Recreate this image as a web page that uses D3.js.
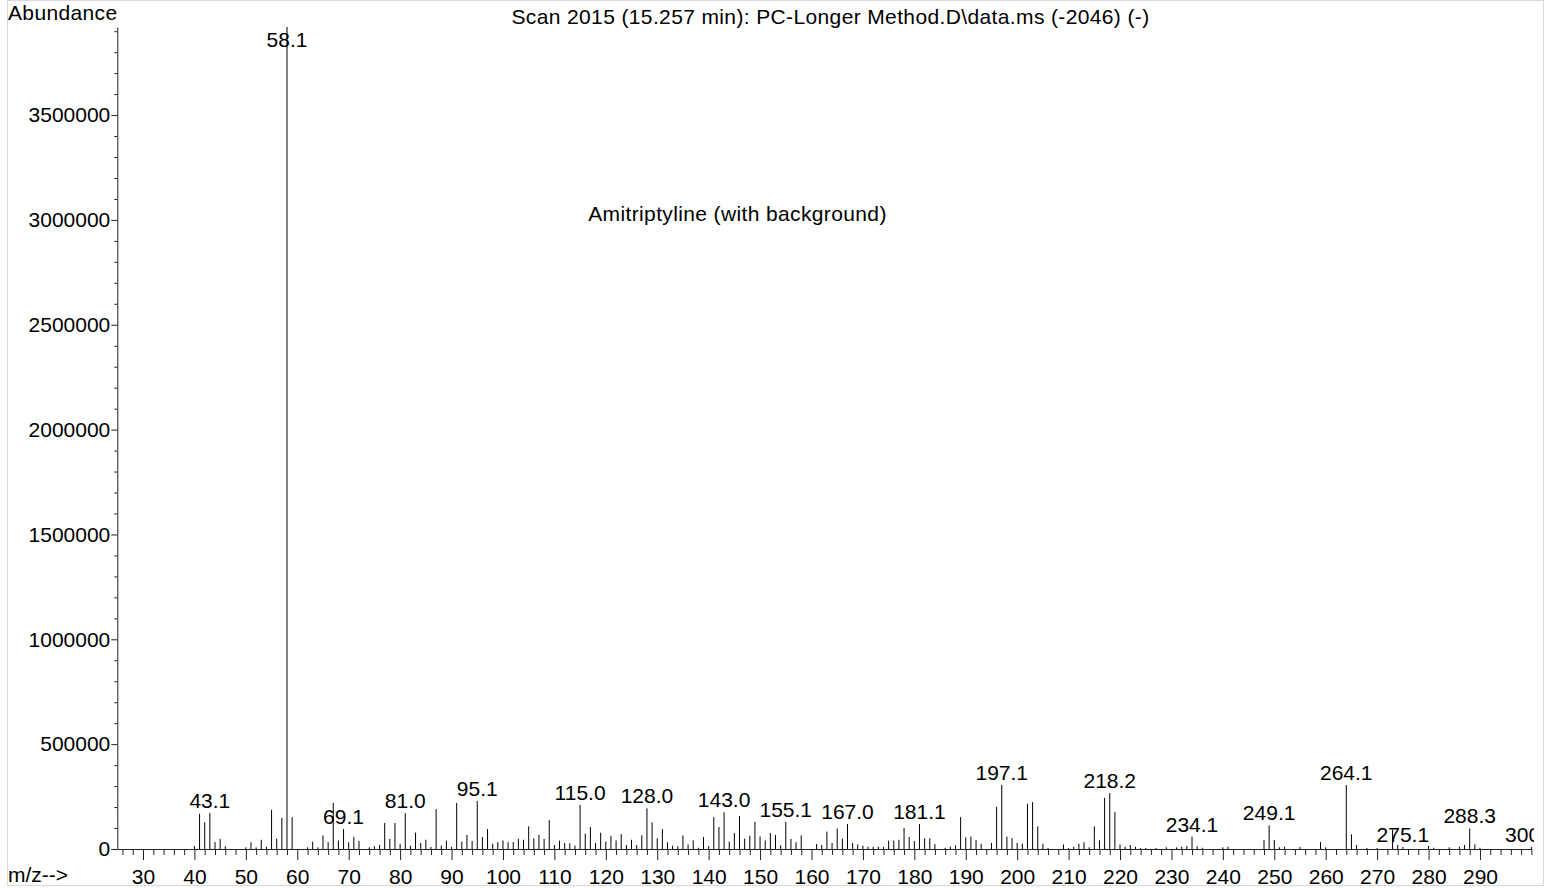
<!DOCTYPE html>
<html><head><meta charset="utf-8">
<script src="https://cdn.jsdelivr.net/npm/d3@7"></script>
<style>
body{margin:0;background:#fff;}
svg text{font-family:Arial,"Liberation Sans",sans-serif;fill:#000;}
</style>
</head><body>
<svg id="chart" width="1551" height="888"></svg>
<script>
// ---- data ----
const mzValues = [40,41,42,43,44,45,46,50,51,52,53,54,55,56,57,58,59,62,63,64,65,66,67,68,69,70,71,72,74,75,76,77,78,79,80,81,82,83,84,85,86,87,88,89,90,91,92,93,94,95,96,97,98,99,100,101,102,103,104,105,106,107,108,109,110,111,112,113,114,115,116,117,118,119,120,121,122,123,124,125,126,127,128,129,130,131,132,133,134,135,136,137,138,139,140,141,142,143,144,145,146,147,148,149,150,151,152,153,154,155,156,157,158,161,162,163,164,165,166,167,168,169,170,171,172,173,174,175,176,177,178,179,180,181,182,183,184,186,187,188,189,190,191,192,193,195,196,197,198,199,200,201,202,203,204,205,206,209,210,211,212,213,214,215,216,217,218,219,220,221,222,223,224,225,227,229,231,232,233,234,235,236,240,241,248,249,250,251,252,255,259,260,264,265,266,268,270,273,274,275,280,281,284,286,287,288,289,290,300];
const abundanceValues = [14000,168000,127000,171000,33000,48000,13000,8000,32000,8000,44000,10000,187000,48000,148000,3920000,152000,8000,35000,8000,65000,33000,220000,40000,95000,32000,58000,39000,8000,13000,19000,124000,48000,124000,25000,171000,16000,78000,29000,44000,10000,190000,16000,40000,10000,220000,35000,67000,38000,229000,57000,95000,25000,33000,41000,33000,33000,48000,44000,108000,51000,68000,48000,138000,19000,40000,29000,27000,16000,210000,73000,105000,29000,78000,35000,63000,41000,71000,19000,44000,19000,65000,194000,127000,51000,95000,32000,16000,13000,65000,22000,41000,6000,57000,14000,152000,105000,175000,35000,76000,157000,49000,63000,130000,60000,41000,76000,67000,18000,129000,48000,32000,65000,24000,19000,83000,29000,98000,49000,119000,29000,22000,16000,11000,10000,11000,10000,40000,40000,44000,100000,57000,38000,119000,51000,51000,23000,6000,11000,17000,152000,56000,59000,43000,25000,29000,201000,306000,59000,52000,29000,25000,216000,224000,108000,25000,5000,22000,5000,11000,25000,32000,8000,108000,41000,244000,267000,176000,22000,11000,19000,10000,5000,5000,5000,8000,8000,11000,14000,59000,13000,6000,8000,11000,43000,113000,43000,8000,11000,10000,33000,8000,305000,70000,19000,5000,5000,92000,19000,10000,14000,6000,8000,11000,19000,98000,22000,6000,10000];
const labelMz = [43,58,69,81,95,115,128,143,155,167,181,197,218,234,249,264,275,288,300];
const labelTexts = ["43.1","58.1","69.1","81.0","95.1","115.0","128.0","143.0","155.1","167.0","181.1","197.1","218.2","234.1","249.1","264.1","275.1","288.3","300.0"];
const xMajorTicks = [30,40,50,60,70,80,90,100,110,120,130,140,150,160,170,180,190,200,210,220,230,240,250,260,270,280,290];
const yMajorTicks = [0,500000,1000000,1500000,2000000,2500000,3000000,3500000];
const titleText = "Scan 2015 (15.257 min): PC-Longer Method.D\\data.ms (-2046) (-)";
const annotationText = "Amitriptyline (with background)";

// ---- layout ----
const svg = d3.select("#chart");
const plotLeft = 117.3, plotRight = 1531.4, plotTop = 27, plotBottom = 849;
const x = d3.scaleLinear().domain([25, 300]).range([plotLeft, plotRight]);
const y = d3.scaleLinear().domain([0, 3920000]).range([plotBottom, plotTop]);
const FS = 21;
const FF = "Arial, 'Liberation Sans', sans-serif";

// frame
svg.append("rect").attr("x",7.5).attr("y",0.5).attr("width",1536).attr("height",885)
  .attr("fill","none").attr("stroke","#d9d9d9").attr("stroke-width",1);

// clip
svg.append("defs").append("clipPath").attr("id","clip")
  .append("rect").attr("x",0).attr("y",0).attr("width",1534).attr("height",888);

const peaks = mzValues.map((m,i)=>({mz:m, ab:abundanceValues[i]}));

// x axis minor ticks
const xMinor = d3.range(26, 301, 2).filter(v => v % 10 !== 0 || v === 300);
svg.append("g").attr("transform",`translate(0,${plotBottom})`)
  .call(d3.axisBottom(x).tickValues(xMinor).tickSize(6).tickFormat("").tickSizeOuter(0))
  .call(g=>g.select(".domain").remove())
  .call(g=>g.selectAll("line").attr("stroke","#222"));
const xAx = svg.append("g").attr("transform",`translate(0,${plotBottom})`)
  .call(d3.axisBottom(x).tickValues(xMajorTicks).tickSize(11).tickSizeOuter(0).tickFormat(d3.format("d")));
xAx.select(".domain").attr("stroke","#222");
xAx.selectAll("line").attr("stroke","#222");
xAx.selectAll("text").attr("font-size",FS).attr("font-family",FF)
  .attr("y",35).attr("dy",0).attr("fill","#000");

// y axis
const yMinor = d3.range(100000, 3950000, 100000).filter(v => v % 500000 !== 0);
svg.append("g").attr("transform",`translate(${plotLeft},0)`)
  .call(d3.axisLeft(y).tickValues(yMinor).tickSize(3).tickFormat("").tickSizeOuter(0))
  .call(g=>g.select(".domain").remove())
  .call(g=>g.selectAll("line").attr("stroke","#222"));
const yAx = svg.append("g").attr("transform",`translate(${plotLeft},0)`)
  .call(d3.axisLeft(y).tickValues(yMajorTicks).tickSize(6).tickPadding(1).tickSizeOuter(0).tickFormat(d3.format("d")));
yAx.select(".domain").attr("stroke","#222");
yAx.selectAll("line").attr("stroke","#222");
yAx.selectAll("text").attr("font-size",FS).attr("font-family",FF).attr("fill","#000");

// stems
svg.append("g").selectAll("line").data(peaks).join("line")
  .attr("x1",d=>x(d.mz)).attr("x2",d=>x(d.mz))
  .attr("y1",y(0)).attr("y2",d=>y(d.ab))
  .attr("stroke","#000").attr("stroke-width",1);

// peak labels (the last one is cut at the plot's right edge, as in the reference)
const labels = labelMz.map((m,i)=>{
  const p = peaks.find(d=>d.mz===m);
  return {mz:m, ab:p?p.ab:0, text:labelTexts[i]};
});
svg.append("g").attr("clip-path","url(#clip)").selectAll("text").data(labels).join("text")
  .attr("x",d=>x(d.mz))
  .attr("y",d=>Math.max(y(d.ab)-5, plotTop+20))
  .attr("text-anchor","middle").attr("font-size",FS)
  .text(d=>d.text);

// texts
svg.append("text").attr("x",8).attr("y",20).attr("font-size",FS).attr("letter-spacing",0.35).text("Abundance");
svg.append("text").attr("x",8).attr("y",882).attr("font-size",FS).text("m/z-->");
svg.append("text").attr("x",830.5).attr("y",24).attr("text-anchor","middle").attr("font-size",FS)
  .attr("letter-spacing",0.37).text(titleText);
svg.append("text").attr("x",737.5).attr("y",221).attr("text-anchor","middle").attr("font-size",FS)
  .attr("letter-spacing",0.37).text(annotationText);
</script>
</body></html>
